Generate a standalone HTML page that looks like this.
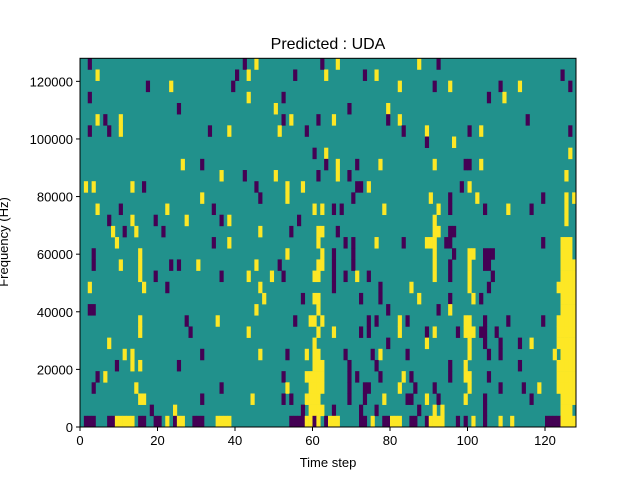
<!DOCTYPE html>
<html><head><meta charset="utf-8"><style>
body{margin:0;background:#fff;}
svg text{font-family:"Liberation Sans","DejaVu Sans",sans-serif;fill:#000;}
</style></head><body>
<svg id="chart" width="640" height="480" viewBox="0 0 640 480" xmlns="http://www.w3.org/2000/svg">
<rect width="640" height="480" fill="#fff"/>
<g id="cells"></g>
<g id="axes"></g>
<text x="328" y="49" font-size="16" text-anchor="middle">Predicted : UDA</text>
<text x="328" y="467" font-size="13" text-anchor="middle">Time step</text>
<text x="-242" y="8" font-size="13" text-anchor="middle" transform="rotate(-90)">Frequency (Hz)</text>
</svg>
<script>
// rows listed from top (index 0) to bottom (index 32); cells: yellow (high) and purple (low) columns
const nCols = 128;
const nRows = 33;
const yellowRows = [
"45,66,87","4,43,63,76","23,82,95,113","43,109","50,79","4,10,54,65,82","10,38,51,89,103","96","63,126",
"26,66,77,91,103","36,50,66,125","1,3,13,53,57,74,100","31,53,90,102,125,127","4,22,60,62,78,92,110,125",
"13,27,38,91,125","8,14,46,61,62,91,92","9,38,61,76,89-91,124-126","15,53,62,91,100,101,124-126",
"10,15,30,45,61,62,91,100,124-127","15,43,49,60,61,71,91,100,124-127","2,16,46,85,100,123-127",
"47,60,61,87,101,124-127","45,61,95,124-127","15,35,59,60,62,82,99,100,123-127",
"15,43,61,65,82,91,99-101,123-127","7,60,89,100,116,123-127","11,13,46,58,60,61,77,100,122,124-127",
"13,15,60-62,99,123-127","6,58-62,83,99,100,123-127","14,53,59-62,82,100,118,123-127",
"15,16,44,58-61,78,89,99,124-127","24,59-62,91,93,124-126",
"9-13,22,25,26,35-38,58,59,61,64-66,75,80-82,90-93,101,108,111,124-127"
];
const purpleRows = [
"2,42,62,92","40,55,73,124","17,39,91,108,126","2,52,105","25,69","6,52,61,79,115","2,7,33,58,83,100,126","89","60",
"31,63,71,99,100","42,61,69","16,45,71,72,98","46,70,95,119","10,34,65,67,95,104,116","7,19,36,56",
"11,21,54,66,95,96","34,68,70,83,94,95,119","3,65,70,96,104-106","3,23,25,51,65,70,95,104,105",
"19,36,52,65,68,74,95,106","22,65,77,105","57,72,77,95,103","2,3,79,92",
"27,55,74,76,84,104,110,119","28,72,74,89,97,103,104,107","79,104,108,113",
"31,53,68,75,84,105,108","9,25,69,76,95,113","4,52,69,71,77,85,95,105","3,36,69,73,74,86,91,108,114",
"31,52,54,69,73,84,85,92,104,116","18,57,65,72,76,87,104",
"1-3,7,8,15,16,19,20,24,29-31,54-57,60,63,72,73,78,79,85,86,89,97,99,104,120-123"
];
const xTicks = [0,20,40,60,80,100,120];
const yTicks = [0,20000,40000,60000,80000,100000,120000];
const yMax = 128000;

const X0=80, X1=576, Y0=427, Y1=58.3;
const xScale = c => X0 + c*(X1-X0)/nCols;
const rowY = t => Y1 + t*(Y0-Y1)/nRows;
const yScale = v => Y0 - v/yMax*(Y0-Y1);
const colors = ["#440154","#21918c","#fde725"];

function parse(s){const out=[];s.split(",").forEach(p=>{if(!p)return;const [a,b]=p.split("-").map(Number);for(let i=a;i<=(b===undefined?a:b);i++)out.push(i);});return out;}
const grid=[];
for(let t=0;t<nRows;t++){grid.push(new Array(nCols).fill(1));
  parse(yellowRows[t]).forEach(c=>grid[t][c]=2);
  parse(purpleRows[t]).forEach(c=>grid[t][c]=0);}

const NS="http://www.w3.org/2000/svg";
const cg=document.getElementById("cells");
const bg=document.createElementNS(NS,"rect");


bg.setAttribute("x",X0);bg.setAttribute("y",Y1);bg.setAttribute("width",X1-X0);bg.setAttribute("height",Y0-Y1);bg.setAttribute("fill",colors[1]);
cg.appendChild(bg);
for(let t=0;t<nRows;t++)for(let c=0;c<nCols;c++){
  if(grid[t][c]===1)continue;
  const r=document.createElementNS(NS,"rect");
  
  
  const x=xScale(c), y=rowY(t);
  r.setAttribute("x",x);r.setAttribute("y",y);
  r.setAttribute("width",xScale(c+1)-x+0.3);r.setAttribute("height",rowY(t+1)-y+0.3);
  r.setAttribute("fill",colors[grid[t][c]]);
  cg.appendChild(r);
}
const ag=document.getElementById("axes");
const frame=document.createElementNS(NS,"rect");


frame.setAttribute("x",X0);frame.setAttribute("y",Y1);frame.setAttribute("width",X1-X0);frame.setAttribute("height",Y0-Y1);
frame.setAttribute("fill","none");frame.setAttribute("stroke","#000");frame.setAttribute("stroke-width","1");
ag.appendChild(frame);
xTicks.forEach(v=>{
  const x=xScale(v);
  const l=document.createElementNS(NS,"line");
  
  
  l.setAttribute("x1",x);l.setAttribute("x2",x);l.setAttribute("y1",Y0);l.setAttribute("y2",Y0+4);l.setAttribute("stroke","#000");
  ag.appendChild(l);
  const tx=document.createElementNS(NS,"text");
  
  
  tx.setAttribute("x",x);tx.setAttribute("y",Y0+18);tx.setAttribute("font-size","13");tx.setAttribute("text-anchor","middle");
  tx.textContent=v;ag.appendChild(tx);
});
yTicks.forEach(v=>{
  const y=yScale(v);
  const l=document.createElementNS(NS,"line");
  
  
  l.setAttribute("x1",X0-4);l.setAttribute("x2",X0);l.setAttribute("y1",y);l.setAttribute("y2",y);l.setAttribute("stroke","#000");
  ag.appendChild(l);
  const tx=document.createElementNS(NS,"text");
  
  
  tx.setAttribute("x",X0-7);tx.setAttribute("y",y+5);tx.setAttribute("font-size","13");tx.setAttribute("text-anchor","end");
  tx.textContent=v;ag.appendChild(tx);
});
</script>
</body></html>
